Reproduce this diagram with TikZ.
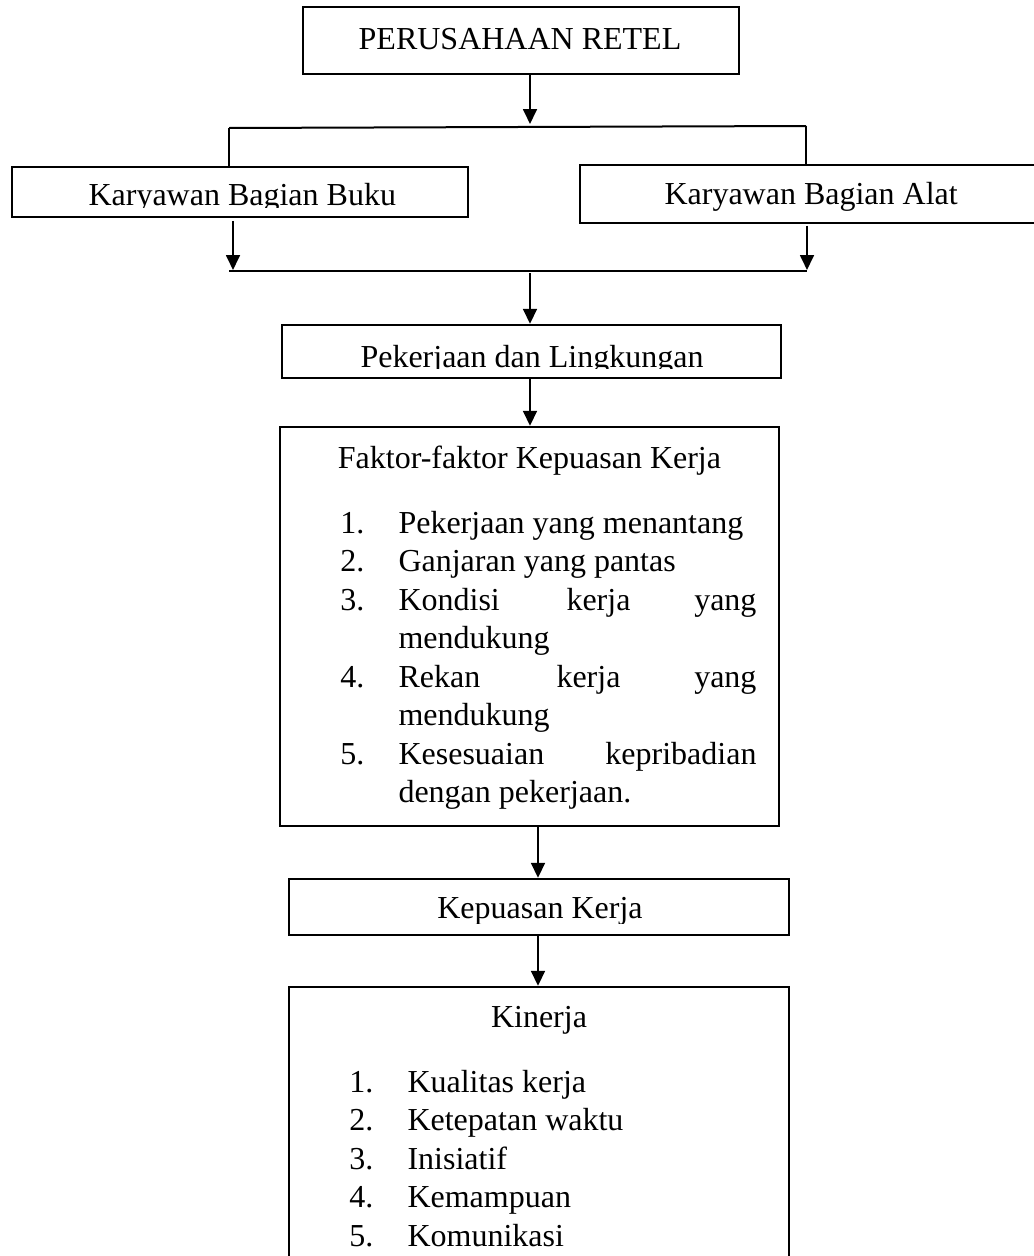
\documentclass[tikz,border=0pt]{standalone}
\usepackage{fontspec}
\setmainfont{Liberation Serif}
\usetikzlibrary{arrows.meta,fit}
\begin{document}
\begin{tikzpicture}[x=0.375pt,y=-0.375pt,
  box/.style={draw, line width=0.9pt, inner sep=0pt},
  txt/.style={inner sep=0pt, font=\fontsize{12}{14}\selectfont},
  link/.style={line width=0.75pt},
  arr/.style={link, -{Triangle[length=5.6pt,width=5.2pt]}}]
\useasboundingbox (0,0) rectangle (1034,1256);
\clip (0,0) rectangle (1034,1256);

% boxes
\node[box, fit={(303,7) (739,74)}] (top) {};
\node[box, fit={(12,167) (468,217)}] (kb) {};
\node[box, fit={(580,165) (1050,223)}] (ka) {};
\node[box, fit={(282,325) (781,378)}] (pl) {};
\node[box, fit={(280,427) (779,826)}] (fk) {};
\node[box, fit={(289,879) (789,935)}] (kp) {};
\node[box, fit={(289,987) (789,1300)}] (kn) {};

% texts
\node[txt, anchor=base] (ttop) at (520,49) {PERUSAHAAN RETEL};
\begin{scope}
  \clip (12,167) rectangle (468,207);
  \node[txt, anchor=base west] (tkb) at (88,205) {Karyawan Bagian Buku};
\end{scope}
\node[txt, anchor=base west] (tka) at (664,204) {Karyawan Bagian Alat};
\begin{scope}
  \clip (282,325) rectangle (781,368.5);
  \node[txt, anchor=base] (tpl) at (532,367) {Pekerjaan dan Lingkungan};
\end{scope}
\node[txt, anchor=base] (tfk) at (529.5,468) {Faktor-faktor Kepuasan Kerja};
\node[txt, anchor=base east] (f1n) at (365,533) {1.};
\node[txt, anchor=base west] (f1) at (398,533) {Pekerjaan yang menantang};
\node[txt, anchor=base east] (f2n) at (365,571.5) {2.};
\node[txt, anchor=base west] (f2) at (398,571.5) {Ganjaran yang pantas};
\node[txt, anchor=base east] (f3n) at (365,610) {3.};
\node[txt, anchor=base west] (f3a) at (398,610) {Kondisi};
\node[txt, anchor=base west] (f3b) at (566,610) {kerja};
\node[txt, anchor=base east] (f3c) at (757,610) {yang};
\node[txt, anchor=base west] (f3d) at (398,648.5) {mendukung};
\node[txt, anchor=base east] (f4n) at (365,687) {4.};
\node[txt, anchor=base west] (f4a) at (398,687) {Rekan};
\node[txt, anchor=base west] (f4b) at (556,687) {kerja};
\node[txt, anchor=base east] (f4c) at (757,687) {yang};
\node[txt, anchor=base west] (f4d) at (398,725.5) {mendukung};
\node[txt, anchor=base east] (f5n) at (365,764) {5.};
\node[txt, anchor=base west] (f5a) at (398,764) {Kesesuaian};
\node[txt, anchor=base east] (f5b) at (757,764) {kepribadian};
\node[txt, anchor=base west] (f5c) at (398,802.5) {dengan pekerjaan.};
\begin{scope}
  \clip (289,879) rectangle (789,923);
  \node[txt, anchor=base] (tkp) at (540,918) {Kepuasan Kerja};
\end{scope}
\node[txt, anchor=base] (tkn) at (539,1027) {Kinerja};
\node[txt, anchor=base east] (k1n) at (374,1092) {1.};
\node[txt, anchor=base west] (k1) at (407,1092) {Kualitas kerja};
\node[txt, anchor=base east] (k2n) at (374,1130.5) {2.};
\node[txt, anchor=base west] (k2) at (407,1130.5) {Ketepatan waktu};
\node[txt, anchor=base east] (k3n) at (374,1169) {3.};
\node[txt, anchor=base west] (k3) at (407,1169) {Inisiatif};
\node[txt, anchor=base east] (k4n) at (374,1207.5) {4.};
\node[txt, anchor=base west] (k4) at (407,1207.5) {Kemampuan};
\node[txt, anchor=base east] (k5n) at (374,1246) {5.};
\node[txt, anchor=base west] (k5) at (407,1246) {Komunikasi};

% connectors
\coordinate (a1) at (530,124);
\coordinate (bl) at (229,128);
\coordinate (br) at (806,126);
\draw[arr] (top.south -| a1) -- (a1);
\draw[link] (bl) -- (br);
\draw[link] (bl) -- (bl |- kb.north);
\draw[link] (br) -- (br |- ka.north);

\coordinate (la) at (233,270);
\coordinate (ra) at (807,270);
\coordinate (bl2) at (229,271);
\coordinate (br2) at (807,271);
\coordinate (m2) at (530,273);
\draw[arr] ([yshift=-1pt]kb.south -| la) -- (la);
\draw[arr] ([yshift=-0.5pt]ka.south -| ra) -- (ra);
\draw[link] (bl2) -- (br2);
\draw[arr] (m2) -- (m2 |- pl.north);
\draw[arr] (pl.south -| m2) -- (fk.north -| m2);

\coordinate (m3) at (538,0);
\draw[arr] (fk.south -| m3) -- (kp.north -| m3);
\draw[arr] (kp.south -| m3) -- (kn.north -| m3);
\end{tikzpicture}
\end{document}
